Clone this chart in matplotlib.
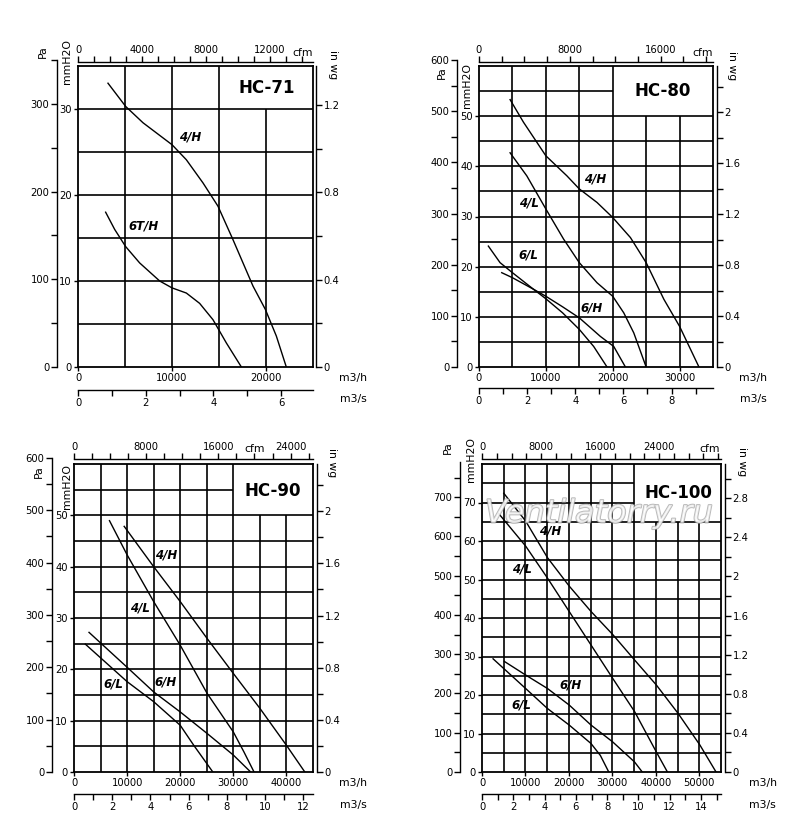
import matplotlib
matplotlib.use("Agg")
import matplotlib.pyplot as plt
import matplotlib.patheffects as pe
from matplotlib.ticker import MultipleLocator, FixedLocator, FuncFormatter
import numpy as np

plt.rcParams.update({
    "font.family": "DejaVu Sans",
    "font.size": 7,
})

W, H = 800, 831
PA_PER_MM = 9.80665
MM_PER_INWG = 25.4
M3H_PER_CFM = 1.69901
M3H_PER_M3S = 3600.0

# --- HC-71 (m3/h, mmH2O) ---
hc71_4h_q = [3190, 5070, 6915, 10000, 11525, 13300, 14890, 16490, 18620, 19930, 21100, 22160]
hc71_4h_p = [33.0, 30.3, 28.4, 25.85, 24.1, 21.4, 18.7, 14.8, 9.4, 6.7, 3.6, 0.0]
hc71_6th_q = [2940, 3900, 5070, 6560, 8690, 10000, 11525, 12940, 14360, 15780, 17380]
hc71_6th_p = [18.0, 16.0, 14.0, 12.1, 10.0, 9.2, 8.6, 7.4, 5.5, 2.8, 0.0]
hc71_cfm_labels = [0, 4000, 8000, 12000]

# --- HC-80 ---
hc80_4h_q = [4650, 6650, 10000, 13150, 15000, 17650, 20000, 22650, 25000, 27650, 30000, 32900]
hc80_4h_p = [53.3, 48.8, 42.1, 38.1, 35.5, 32.8, 29.8, 25.8, 20.8, 13.5, 8.1, 0.0]
hc80_4l_q = [4650, 7150, 10000, 12650, 15000, 17650, 20000, 21650, 23150, 25000]
hc80_4l_p = [42.7, 38.1, 31.5, 25.5, 20.8, 16.8, 14.1, 10.8, 6.8, 0.0]
hc80_6l_q = [1400, 3150, 5000, 8150, 10000, 12500, 15000, 17150, 19150]
hc80_6l_p = [24.1, 20.8, 18.8, 15.5, 13.6, 10.8, 7.5, 4.1, 0.0]
hc80_6h_q = [3400, 5000, 8150, 10000, 12500, 15000, 18150, 20150, 21900]
hc80_6h_p = [18.8, 17.8, 15.5, 14.1, 12.0, 9.8, 6.1, 4.1, 0.0]
hc80_cfm_labels = [0, 8000, 16000]

# --- HC-90 ---
hc90_4h_q = [9450, 15000, 20000, 25070, 30000, 35000, 40000, 43460]
hc90_4h_p = [47.85, 40.0, 33.2, 26.0, 19.2, 12.4, 5.2, 0.0]
hc90_4l_q = [6680, 10000, 15000, 20000, 25070, 30000, 32000, 33900]
hc90_4l_p = [48.96, 42.3, 33.2, 24.7, 15.3, 7.8, 3.9, 0.0]
hc90_6h_q = [2830, 10000, 15000, 20000, 25070, 30000, 33260]
hc90_6h_p = [27.2, 20.4, 15.6, 11.7, 7.5, 3.3, 0.0]
hc90_6l_q = [2140, 10000, 15000, 20000, 22550, 26140]
hc90_6l_p = [24.9, 17.6, 13.7, 9.1, 5.2, 0.0]
hc90_cfm_labels = [0, 8000, 16000, 24000]

# --- HC-100 ---
hc100_4h_q = [5015, 10030, 15050, 20060, 25080, 30090, 35110, 40120, 45140, 50150, 53860]
hc100_4h_p = [72.4, 65.2, 55.7, 48.3, 41.7, 35.7, 29.1, 22.6, 15.2, 7.0, 0.0]
hc100_4l_q = [3860, 10030, 15050, 20060, 25080, 30090, 35110, 40120, 42670]
hc100_4l_p = [67.1, 58.7, 50.4, 41.7, 33.0, 24.3, 15.7, 5.2, 0.0]
hc100_6h_q = [5170, 10030, 15050, 20060, 25080, 30090, 35110, 36880]
hc100_6h_p = [28.7, 25.2, 21.7, 17.4, 12.2, 7.8, 2.6, 0.0]
hc100_6l_q = [2550, 10030, 15050, 20060, 25080, 27240, 29170]
hc100_6l_p = [29.4, 21.7, 16.5, 12.2, 7.4, 4.3, 0.0]
hc100_cfm_labels = [0, 8000, 16000, 24000]

# curve name tags and where they sit (m3/h, mmH2O)
hc71_tags = [("4/H", 11880, 26.7), ("6T/H", 6990, 16.4)]
hc80_tags = [("4/H", 17400, 37.5), ("4/L", 7400, 32.7), ("6/L", 7400, 22.3), ("6/H", 16900, 11.8)]
hc90_tags = [("4/H", 17320, 42.3), ("4/L", 12470, 32.0), ("6/H", 17320, 17.6), ("6/L", 7430, 17.1)]
hc100_tags = [("4/H", 15660, 62.6), ("4/L", 9100, 52.6), ("6/H", 20450, 22.6), ("6/L", 9100, 17.4)]

fig = plt.figure(figsize=(8, 8.31), dpi=100)


def px_rect(l, t, r, b):
    return [l / W, 1 - b / H, (r - l) / W, (b - t) / H]


def bare(a):
    a.patch.set_visible(False)
    for s in a.spines.values():
        s.set_visible(False)


def ftext(x, y, s, **kw):
    fig.text(x / W, 1 - y / H, s, ha="center", va="center", **kw)


def draw_panel(lay, curves, tags, cfm_labels):
    l, t, r, b = lay["box"]
    xmax, ymax = lay["xmax"], lay["ymax"]
    x0, y0 = lay["corner"]

    ax = fig.add_axes(px_rect(l, t, r, b))
    ax.set_xlim(0, xmax)
    ax.set_ylim(0, ymax)
    for s in ax.spines.values():
        s.set_linewidth(1.3)
    # grid, leaving an empty box top-right for the model name
    for xv in np.arange(5000, xmax, 5000):
        ax.vlines(xv, 0, y0 if xv > x0 else ymax, color="k", lw=1.2)
    for yv in np.arange(5, ymax, 5):
        ax.hlines(yv, 0, x0 if yv > y0 else xmax, color="k", lw=1.2)
    for q, p in curves:
        ax.plot(q, p, color="k", lw=1.0)
    for name, tx, ty in tags:
        ax.text(tx, ty, name, fontsize=8.5, fontweight="bold", fontstyle="italic",
                ha="center", va="center")
    ax.set_yticks(np.arange(0, ymax, 10))
    ax.set_xticks(np.arange(0, xmax, 10000))
    ax.xaxis.set_major_formatter(FuncFormatter(lambda v, _: f"{v:.0f}"))
    ax.yaxis.set_major_formatter(FuncFormatter(lambda v, _: f"{v:.0f}"))
    ax.tick_params(direction="out", length=3, width=1.0, pad=1.5, labelsize=7.2)

    # Pa scale (outer left)
    hpa = (b - t) * lay["pa_top"] / PA_PER_MM / ymax
    ap = fig.add_axes(px_rect(lay["pa_x"], b - hpa, lay["pa_x"] + 0.1, b))
    bare(ap)
    ap.spines["left"].set_visible(True)
    ap.spines["left"].set_linewidth(1.0)
    ap.set_ylim(0, lay["pa_top"])
    ap.xaxis.set_visible(False)
    ap.yaxis.set_major_locator(MultipleLocator(100))
    ap.yaxis.set_minor_locator(MultipleLocator(50))
    ap.tick_params(axis="y", which="both", direction="out", length=4, width=1.0,
                   pad=1.5, labelsize=7.2)

    # in wg scale (right)
    aw = fig.add_axes(px_rect(lay["inwg_x"] - 0.1, t, lay["inwg_x"], b))
    bare(aw)
    aw.spines["right"].set_visible(True)
    aw.spines["right"].set_linewidth(1.0)
    aw.set_ylim(0, ymax / MM_PER_INWG)
    aw.xaxis.set_visible(False)
    aw.yaxis.tick_right()
    aw.yaxis.set_major_locator(MultipleLocator(0.4))
    aw.yaxis.set_minor_locator(MultipleLocator(0.2))
    aw.yaxis.set_major_formatter(FuncFormatter(
        lambda v, _: f"{v:.1f}".rstrip("0").rstrip(".")))
    aw.tick_params(axis="y", which="both", direction="out", length=4, width=1.0,
                   pad=1.5, labelsize=7.2)

    # cfm scale (top)
    ac = fig.add_axes(px_rect(l, lay["cfm_y"], r, lay["cfm_y"] + 0.1))
    bare(ac)
    ac.spines["top"].set_visible(True)
    ac.spines["top"].set_linewidth(1.0)
    ac.set_xlim(0, xmax / M3H_PER_CFM)
    ac.yaxis.set_visible(False)
    ac.xaxis.tick_top()
    ac.xaxis.set_major_locator(FixedLocator(cfm_labels))
    ac.xaxis.set_minor_locator(MultipleLocator(lay["cfm_minor"]))
    ac.xaxis.set_major_formatter(FuncFormatter(lambda v, _: f"{v:.0f}"))
    ac.tick_params(axis="x", which="both", direction="out", length=4, width=1.0,
                   pad=1.0, labelsize=7.2)

    # m3/s scale (bottom)
    am = fig.add_axes(px_rect(l, lay["ms_y"] - 0.1, r, lay["ms_y"]))
    bare(am)
    am.spines["bottom"].set_visible(True)
    am.spines["bottom"].set_linewidth(1.0)
    am.set_xlim(0, xmax / M3H_PER_M3S)
    am.yaxis.set_visible(False)
    am.xaxis.set_major_locator(MultipleLocator(2))
    am.xaxis.set_minor_locator(MultipleLocator(1))
    am.xaxis.set_major_formatter(FuncFormatter(lambda v, _: f"{v:.0f}"))
    am.tick_params(axis="x", which="both", direction="out", length=4, width=1.0,
                   pad=1.5, labelsize=7.2)

    # unit names and model name
    for txt, key, rot in [("Pa", "pa_lbl", 90), ("mmH2O", "mm_lbl", 90),
                          ("in wg", "wg_lbl", -90), ("cfm", "cfm_lbl", 0),
                          ("m3/h", "m3h_lbl", 0), ("m3/s", "m3s_lbl", 0)]:
        ftext(*lay[key], txt, rotation=rot, fontsize=7.8)
    ftext(*lay["title_pos"], lay["title"], fontsize=12, fontweight="bold")


layouts = {
    "HC-71": dict(box=(78, 66, 313, 367), xmax=25000, ymax=35, corner=(15000, 30),
                  pa_x=57, pa_top=350, inwg_x=316, cfm_y=62, cfm_minor=1000, ms_y=390,
                  pa_lbl=(43, 52), mm_lbl=(67, 62), wg_lbl=(333, 65), cfm_lbl=(303, 53),
                  m3h_lbl=(353, 378), m3s_lbl=(353, 399), title="HC-71", title_pos=(267, 88)),
    "HC-80": dict(box=(479, 66, 713, 367), xmax=35000, ymax=60, corner=(20000, 50),
                  pa_x=457, pa_top=600, inwg_x=717, cfm_y=62, cfm_minor=2000, ms_y=388,
                  pa_lbl=(442, 73), mm_lbl=(467, 86), wg_lbl=(732, 66), cfm_lbl=(703, 53),
                  m3h_lbl=(753, 378), m3s_lbl=(753, 399), title="HC-80", title_pos=(663, 91)),
    "HC-90": dict(box=(74, 464, 313, 772), xmax=45000, ymax=60, corner=(30000, 50),
                  pa_x=52, pa_top=600, inwg_x=317, cfm_y=459, cfm_minor=2000, ms_y=794,
                  pa_lbl=(39, 472), mm_lbl=(67, 487), wg_lbl=(332, 463), cfm_lbl=(255, 449),
                  m3h_lbl=(353, 783), m3s_lbl=(353, 805), title="HC-90", title_pos=(273, 491)),
    "HC-100": dict(box=(482, 464, 721, 772), xmax=55000, ymax=80, corner=(35000, 65),
                   pa_x=460, pa_top=790, inwg_x=725, cfm_y=459, cfm_minor=2000, ms_y=794,
                   pa_lbl=(448, 448), mm_lbl=(471, 460), wg_lbl=(742, 462), cfm_lbl=(710, 449),
                   m3h_lbl=(763, 783), m3s_lbl=(762, 805), title="HC-100", title_pos=(678, 493)),
}

draw_panel(layouts["HC-71"],
           [(hc71_4h_q, hc71_4h_p), (hc71_6th_q, hc71_6th_p)],
           hc71_tags, hc71_cfm_labels)
draw_panel(layouts["HC-80"],
           [(hc80_4h_q, hc80_4h_p), (hc80_4l_q, hc80_4l_p),
            (hc80_6l_q, hc80_6l_p), (hc80_6h_q, hc80_6h_p)],
           hc80_tags, hc80_cfm_labels)
draw_panel(layouts["HC-90"],
           [(hc90_4h_q, hc90_4h_p), (hc90_4l_q, hc90_4l_p),
            (hc90_6h_q, hc90_6h_p), (hc90_6l_q, hc90_6l_p)],
           hc90_tags, hc90_cfm_labels)
draw_panel(layouts["HC-100"],
           [(hc100_4h_q, hc100_4h_p), (hc100_4l_q, hc100_4l_p),
            (hc100_6h_q, hc100_6h_p), (hc100_6l_q, hc100_6l_p)],
           hc100_tags, hc100_cfm_labels)

# watermark
ftext(599, 514, "Ventilatorry.ru", fontsize=23, fontstyle="italic", color="white",
      alpha=0.7, path_effects=[pe.withStroke(linewidth=1.3, foreground="#9a9a9a")])

fig.savefig("out.png", dpi=100)
